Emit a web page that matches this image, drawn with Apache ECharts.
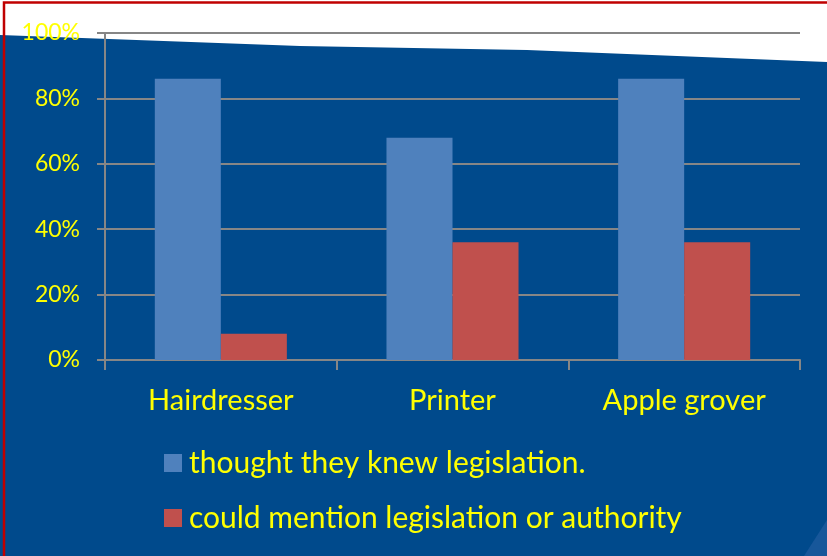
<!DOCTYPE html>
<html>
<head>
<meta charset="utf-8">
<script src="https://cdn.jsdelivr.net/npm/echarts@6/dist/echarts.min.js"></script>
<style>
html,body{margin:0;padding:0;background:#004a8c;}
#c{width:827px;height:556px;}
</style>
</head>
<body>
<div id="c"></div>
<script>
var categories = ['Hairdresser', 'Printer', 'Apple grover'];
var seriesNames = ['thought they knew legislation.', 'could mention legislation or authority'];
var knewValues = [86, 68, 86];
var mentionValues = [8, 36, 36];
var yTicks = [0, 20, 40, 60, 80, 100];

var chart = echarts.init(document.getElementById('c'), null, {renderer: 'canvas'});
var FONT = 'Lato';
var YELLOW = '#ffff00';
var GRAY = '#868686';
chart.setOption({
  backgroundColor: '#004a8c',
  animation: false,
  graphic: [
    {type: 'polygon', silent: true, z: -10,
     shape: {points: [[0,0],[827,0],[827,62],[527,50],[300,46],[0,35]]},
     style: {fill: '#ffffff'}},
    {type: 'polygon', silent: true, z: -10,
     shape: {points: [[804,556],[827,520],[827,556]]},
     style: {fill: '#17579a'}},
    {type: 'polyline', silent: true, z: 100,
     shape: {points: [[4,556],[4,2.5],[827,2.5]]},
     style: {stroke: '#c00000', lineWidth: 2.5, fill: null}}
  ],
  grid: {left: 105, right: 27, top: 33, bottom: 196, containLabel: false},
  legend: {
    orient: 'vertical', left: 159, top: 443,
    itemWidth: 18, itemHeight: 18, itemGap: 25,
    icon: 'rect',
    data: seriesNames,
    textStyle: {color: YELLOW, fontFamily: FONT, fontSize: 30, padding: [0,0,0,2]}
  },
  xAxis: {
    type: 'category', data: categories,
    axisLine: {lineStyle: {color: GRAY, width: 2}},
    axisTick: {show: true, length: 10, lineStyle: {color: GRAY, width: 2}},
    axisLabel: {color: YELLOW, fontFamily: FONT, fontSize: 29, margin: 26}
  },
  yAxis: {
    type: 'value', min: 0, max: 100, interval: 20,
    axisLine: {show: true, lineStyle: {color: GRAY, width: 2}},
    axisTick: {show: true, length: 8, lineStyle: {color: GRAY, width: 2}},
    splitLine: {lineStyle: {color: GRAY, width: 2}},
    axisLabel: {color: YELLOW, fontFamily: FONT, fontSize: 23, margin: 25,
      formatter: function (v) { return yTicks.indexOf(v) >= 0 ? v + '%' : ''; }}
  },
  series: [
    {name: seriesNames[0], type: 'bar', data: knewValues, barGap: '0%', barCategoryGap: '43%',
     itemStyle: {color: '#4f81bd'}},
    {name: seriesNames[1], type: 'bar', data: mentionValues, barGap: '0%', barCategoryGap: '43%',
     itemStyle: {color: '#c0504d'}}
  ]
});
</script>
</body>
</html>
